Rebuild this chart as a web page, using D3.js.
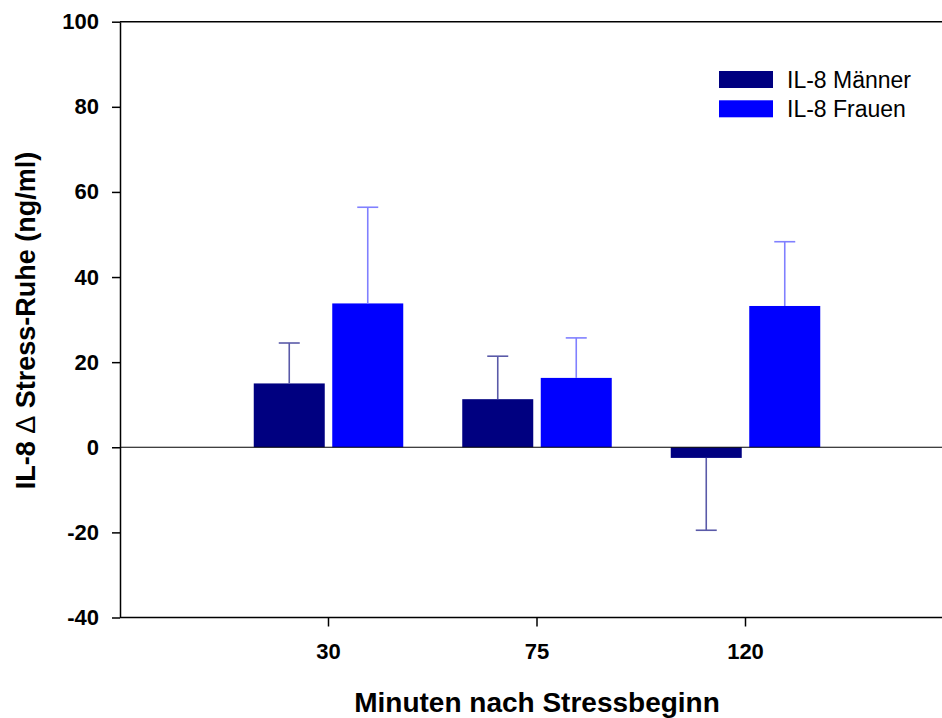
<!DOCTYPE html>
<html>
<head>
<meta charset="utf-8">
<script src="https://cdn.jsdelivr.net/npm/d3@7"></script>
<style>
html,body{margin:0;padding:0;background:#fff;}
svg{display:block;}
text{font-family:"Liberation Sans",Arial,sans-serif;}
</style>
</head>
<body>
<svg id="chart" width="942" height="718"></svg>
<script>
const categories = ["30", "75", "120"];
const seriesNames = ["IL-8 Männer", "IL-8 Frauen"];
const maennerValues = [15.0, 11.3, -2.5];
const maennerErrors = [9.5, 10.1, 17.0];
const frauenValues = [33.8, 16.3, 33.2];
const frauenErrors = [22.6, 9.4, 15.1];
const yTicks = [-40, -20, 0, 20, 40, 60, 80, 100];
const xTitle = "Minuten nach Stressbeginn";
const yTitleParts = ["IL-8 ", "\u0394", " Stress-Ruhe (ng/ml)"];

(function () {
const barColors = ["#000080", "#0000ff"];
const errColors = ["#5a5aa8", "#8080ff"];

const svg = d3.select("#chart");
const mLeft = 120, mRight = 954, mTop = 21.7, mBottom = 617.5;

const y = d3.scaleLinear().domain([-40, 100]).range([mBottom, mTop]);
const x = d3.scaleBand().domain(categories).range([mLeft, mRight]).paddingInner(0).paddingOuter(0.5);
const sub = d3.scaleBand().domain(seriesNames).range([-74.75, 74.75]).paddingInner(0.0955);

const series = [
  {name: seriesNames[0], values: maennerValues, errors: maennerErrors},
  {name: seriesNames[1], values: frauenValues, errors: frauenErrors}
];

// frame top line
svg.append("line").attr("x1", mLeft).attr("x2", 942).attr("y1", y(100)).attr("y2", y(100))
  .attr("stroke", "#000").attr("stroke-width", 1.5);

// bars
series.forEach((s, si) => {
  const g = svg.append("g");
  categories.forEach((c, i) => {
    const v = s.values[i];
    const cx = x(c) + x.bandwidth() / 2;
    const bx = cx + sub(s.name);
    g.append("rect")
      .attr("x", bx).attr("width", sub.bandwidth())
      .attr("y", Math.min(y(v), y(0))).attr("height", Math.abs(y(v) - y(0)))
      .attr("fill", barColors[si]);
    const ex = bx + sub.bandwidth() / 2;
    const end = v >= 0 ? v + s.errors[i] : v - s.errors[i];
    g.append("line").attr("x1", ex).attr("x2", ex).attr("y1", y(v)).attr("y2", y(end))
      .attr("stroke", errColors[si]).attr("stroke-width", 1.6);
    g.append("line").attr("x1", ex - 10.5).attr("x2", ex + 10.5).attr("y1", y(end)).attr("y2", y(end))
      .attr("stroke", errColors[si]).attr("stroke-width", 1.6);
  });
});

// zero line
svg.append("line").attr("x1", mLeft).attr("x2", 942).attr("y1", y(0)).attr("y2", y(0))
  .attr("stroke", "#000").attr("stroke-width", 1.2);

// y axis
const yAxis = svg.append("g").attr("transform", `translate(${mLeft},0)`)
  .call(d3.axisLeft(y).tickValues(yTicks).tickFormat(d => String(d)).tickSize(8).tickPadding(13).tickSizeOuter(0));
yAxis.select(".domain").attr("stroke-width", 1.5);
yAxis.selectAll(".tick line").attr("stroke-width", 1.5);
yAxis.selectAll("text").attr("font-size", 22).attr("font-weight", "bold")
  .attr("font-family", "'Liberation Sans', Arial, sans-serif").attr("fill", "#000");

// x axis
const xAxis = svg.append("g").attr("transform", `translate(0,${mBottom})`)
  .call(d3.axisBottom(x).tickSize(9).tickPadding(17).tickSizeOuter(0));
xAxis.select(".domain").attr("stroke-width", 1.5).attr("d", `M${mLeft},0H942`);
xAxis.selectAll(".tick line").attr("stroke-width", 1.5);
xAxis.selectAll("text").attr("font-size", 22).attr("font-weight", "bold")
  .attr("font-family", "'Liberation Sans', Arial, sans-serif").attr("fill", "#000");

// titles
svg.append("text").attr("x", 537).attr("y", 712).attr("text-anchor", "middle")
  .attr("font-size", 28).attr("font-weight", "bold").text(xTitle);
const yt = svg.append("text").attr("transform", "translate(35,320.5) rotate(-90)").attr("text-anchor", "middle")
  .attr("font-size", 27).attr("font-weight", "bold");
yTitleParts.forEach((p, i) => {
  yt.append("tspan").attr("font-weight", i === 1 ? "normal" : "bold").text(p);
});

// legend
const legend = svg.append("g");
series.forEach((s, si) => {
  legend.append("rect").attr("x", 719).attr("y", 71 + si * 29.3).attr("width", 54).attr("height", 17)
    .attr("fill", barColors[si]);
  legend.append("text").attr("x", 787).attr("y", 87.7 + si * 29.3)
    .attr("font-size", 23).attr("fill", "#000").text(s.name);
});
})();
</script>
</body>
</html>
